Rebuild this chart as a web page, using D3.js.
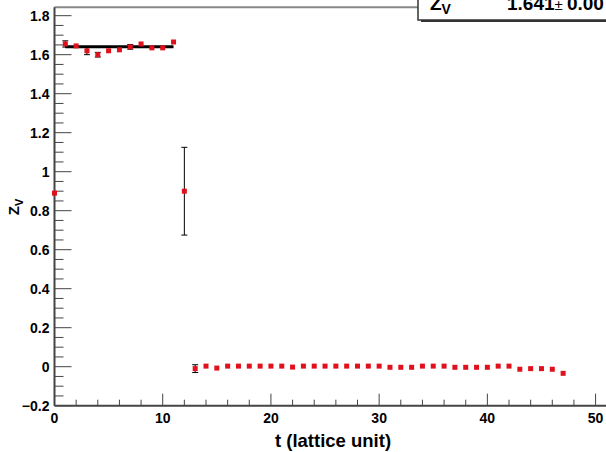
<!DOCTYPE html>
<html>
<head>
<meta charset="utf-8">
<script src="https://cdn.jsdelivr.net/npm/d3@7"></script>
<style>
  body { margin: 0; background: #fff; }
  svg { font-family: "Liberation Sans", Arial, sans-serif; }
</style>
</head>
<body>
<div id="chart"></div>
<script>
// data
const tValues = d3.range(0, 48)
const zValues = [0.89, 1.655, 1.645, 1.62, 1.60, 1.62, 1.625, 1.64, 1.655, 1.635, 1.635, 1.665,
  0.90, -0.01, 0.003, -0.007, 0.003, 0.003, 0.003, 0.003, 0.003, 0.003, -0.002, 0.003,
  0.003, 0.003, 0.003, 0.003, 0.003, 0.003, 0.003, -0.003, -0.003, -0.003, 0.003, 0.003,
  0.003, -0.003, -0.003, -0.003, -0.003, 0.003, 0.003, -0.013, -0.01, -0.01, -0.013, -0.034]
const zErrors = [0.004, 0.016, 0.004, 0.02, 0.012, 0.004, 0.004, 0.012, 0.004, 0.004, 0.004, 0.004,
  0.225, 0.02, 0.004, 0.004, 0.004, 0.004, 0.004, 0.004, 0.004, 0.004, 0.004, 0.004,
  0.004, 0.004, 0.004, 0.004, 0.004, 0.004, 0.004, 0.004, 0.004, 0.004, 0.004, 0.004,
  0.004, 0.004, 0.004, 0.004, 0.004, 0.004, 0.004, 0.004, 0.004, 0.004, 0.004, 0.004]
const fitRange = [1, 11]
const fitValue = 1.641
const fitError = '0.00'
const xTicks = [0, 10, 20, 30, 40, 50]
const yTicks = [-0.2, 0, 0.2, 0.4, 0.6, 0.8, 1, 1.2, 1.4, 1.6, 1.8]

const width = 606,
      height = 452

const svg = d3.select('#chart')
  .append('svg')
  .attr('width', width)
  .attr('height', height)

const x = d3.scaleLinear().domain([0, 51]).range([54.5, 606.4])
const y = d3.scaleLinear().domain([-0.2, 1.843]).range([405.7, 7.3])

// frame top line
svg.append('line')
  .attr('x1', x(0)).attr('x2', width)
  .attr('y1', y(1.843)).attr('y2', y(1.843))
  .attr('stroke', '#888').attr('stroke-width', 2)

// y axis with ticks inside
const yMinor = d3.range(-0.2, 1.84, 0.05)
svg.append('g')
  .selectAll('line')
  .data(yMinor)
  .enter()
  .append('line')
  .attr('x1', x(0))
  .attr('x2', d => {
    const major = Math.abs(Math.round(d * 5) - d * 5) < 1e-6
    return x(0) + (major ? 17 : 9)
  })
  .attr('y1', d => y(d)).attr('y2', d => y(d))
  .attr('stroke', '#444').attr('stroke-width', 1)

svg.append('line')
  .attr('x1', x(0)).attr('x2', x(0))
  .attr('y1', y(-0.2)).attr('y2', y(1.843))
  .attr('stroke', '#444').attr('stroke-width', 2)

svg.append('g')
  .selectAll('text')
  .data(yTicks)
  .enter()
  .append('text')
  .attr('x', x(0) - 5)
  .attr('y', d => y(d) + 5)
  .attr('text-anchor', 'end')
  .attr('font-size', 14)
  .attr('font-weight', 'bold')
  .text(d => d3.format('')(Math.round(d * 10) / 10))

// x axis with ticks inside
const xMinor = d3.range(0, 51, 2)
svg.append('g')
  .selectAll('line')
  .data(xMinor)
  .enter()
  .append('line')
  .attr('x1', d => x(d)).attr('x2', d => x(d))
  .attr('y1', y(-0.2))
  .attr('y2', d => y(-0.2) - (d % 10 === 0 ? 12 : 6))
  .attr('stroke', '#444').attr('stroke-width', 1)

svg.append('line')
  .attr('x1', x(0)).attr('x2', width)
  .attr('y1', y(-0.2)).attr('y2', y(-0.2))
  .attr('stroke', '#444').attr('stroke-width', 2)

svg.append('g')
  .selectAll('text')
  .data(xTicks)
  .enter()
  .append('text')
  .attr('x', d => x(d))
  .attr('y', y(-0.2) + 17)
  .attr('text-anchor', 'middle')
  .attr('font-size', 14)
  .attr('font-weight', 'bold')
  .text(d => d)

// axis titles
svg.append('text')
  .attr('x', 333).attr('y', 447)
  .attr('text-anchor', 'middle')
  .attr('font-size', 18.5)
  .attr('font-weight', 'bold')
  .text('t (lattice unit)')

const yTitle = svg.append('text')
  .attr('transform', 'translate(19,207) rotate(-90)')
  .attr('text-anchor', 'middle')
  .attr('font-size', 15)
  .attr('font-weight', 'bold')
yTitle.append('tspan').text('Z')
yTitle.append('tspan').attr('dy', 4).attr('font-size', 11).text('V')

// error bars
const pts = tValues.map((t, i) => ({ t: t, z: zValues[i], e: zErrors[i] }))
const bars = svg.append('g').selectAll('g')
  .data(pts.filter(d => d.e > 0.01))
  .enter()
  .append('g')
  .attr('stroke', '#000').attr('stroke-width', 1)
bars.append('line')
  .attr('x1', d => x(d.t)).attr('x2', d => x(d.t))
  .attr('y1', d => y(d.z + d.e)).attr('y2', d => y(d.z - d.e))
bars.append('line')
  .attr('x1', d => x(d.t) - 3).attr('x2', d => x(d.t) + 3)
  .attr('y1', d => y(d.z + d.e)).attr('y2', d => y(d.z + d.e))
bars.append('line')
  .attr('x1', d => x(d.t) - 3).attr('x2', d => x(d.t) + 3)
  .attr('y1', d => y(d.z - d.e)).attr('y2', d => y(d.z - d.e))

// fit line
svg.append('line')
  .attr('x1', x(fitRange[0])).attr('x2', x(fitRange[1]))
  .attr('y1', y(fitValue)).attr('y2', y(fitValue))
  .attr('stroke', '#000').attr('stroke-width', 3)

// points
svg.append('g')
  .selectAll('rect')
  .data(pts)
  .enter()
  .append('rect')
  .attr('x', d => x(d.t) - 2.5)
  .attr('y', d => y(d.z) - 2.5)
  .attr('width', 5)
  .attr('height', 5)
  .attr('fill', '#e0101c')

// stats box
svg.append('rect')
  .attr('x', 421).attr('y', -5)
  .attr('width', 200).attr('height', 27)
  .attr('fill', '#333')
svg.append('rect')
  .attr('x', 418).attr('y', -5)
  .attr('width', 200).attr('height', 25)
  .attr('fill', '#fff').attr('stroke', '#333').attr('stroke-width', 1.5)
const statLabel = svg.append('text')
  .attr('x', 430).attr('y', 10)
  .attr('font-size', 19)
  .attr('font-weight', 'bold')
statLabel.append('tspan').text('Z')
statLabel.append('tspan').attr('dy', 4).attr('font-size', 14).text('V')
const statValue = svg.append('text')
  .attr('x', 507).attr('y', 10)
  .attr('font-size', 19)
  .attr('font-weight', 'bold')
statValue.append('tspan').text(fitValue)
statValue.append('tspan').attr('font-weight', 'normal').attr('font-size', 15).text('\u00b1 ')
statValue.append('tspan').text(fitError)
</script>
</body>
</html>
